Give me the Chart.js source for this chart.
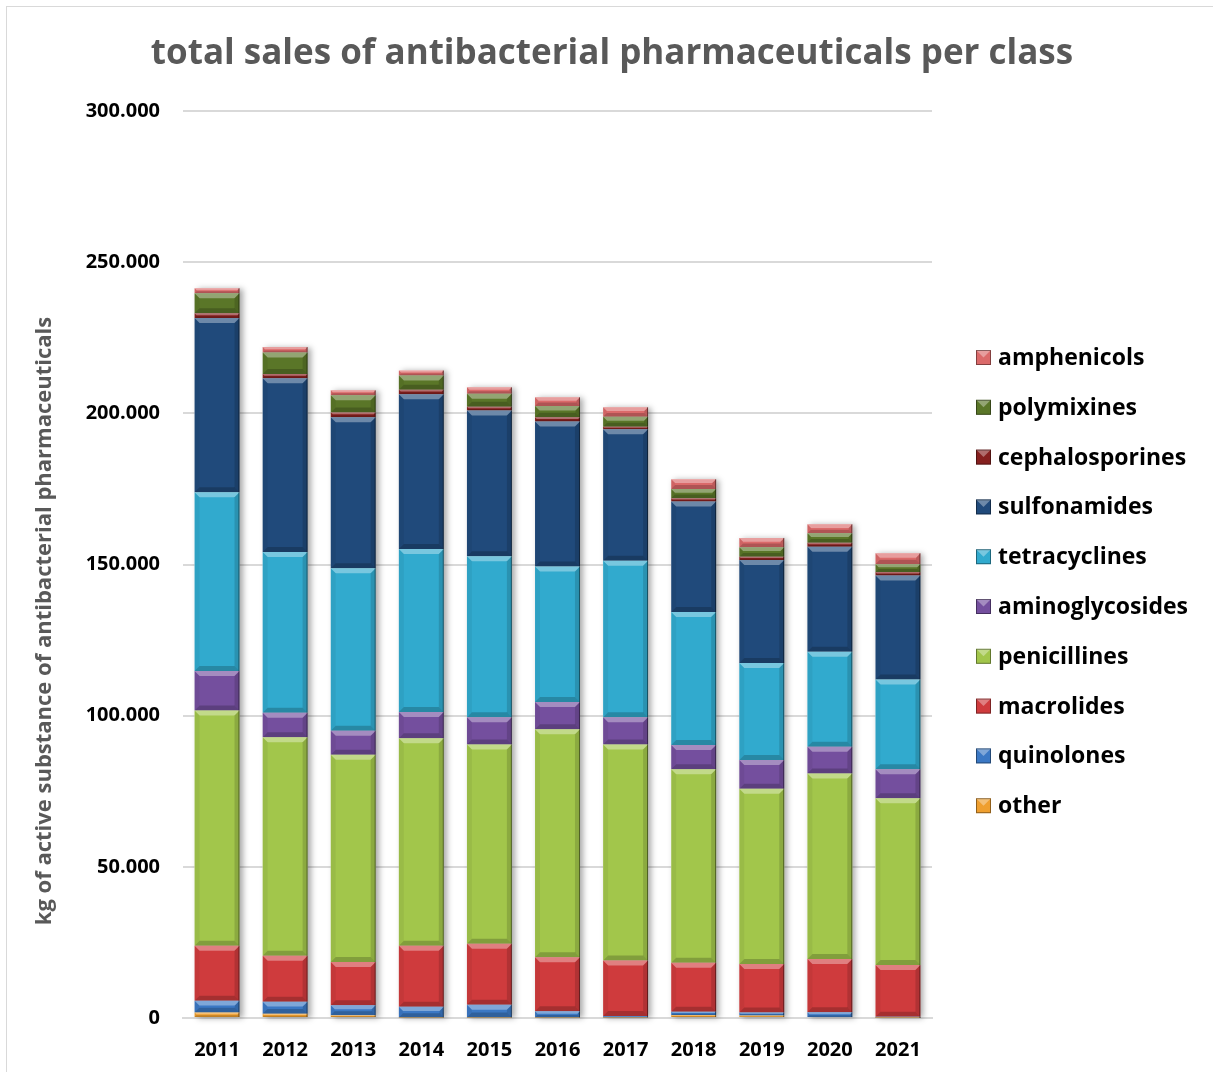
<!DOCTYPE html>
<html>
<head>
<meta charset="utf-8">
<script src="https://cdn.jsdelivr.net/npm/chart.js@4"></script>
<style>
  html, body { margin: 0; padding: 0; background: #fff; }
  #wrap { position: relative; width: 1213px; height: 1072px; overflow: hidden; }
  #frame { position: absolute; left: 6px; top: 6px; width: 1220px; height: 1100px; border: 1px solid #d9d9d9; }
  canvas { position: absolute; left: 0; top: 0; }
</style>
</head>
<body>
<div id="wrap">
  <div id="frame"></div>
  <canvas id="salesChart" width="1213" height="1072"></canvas>
</div>
<script>
// kg of active substance, per year
const years = ["2011", "2012", "2013", "2014", "2015", "2016", "2017", "2018", "2019", "2020", "2021"];

const other           = [1800, 1400, 900, 200, 200, 200, 200, 1000, 800, 300, 100];
const quinolones      = [3900, 4000, 3300, 3500, 4200, 2000, 500, 1100, 1000, 1600, 300];
const macrolides      = [18200, 15200, 14300, 20200, 20200, 17900, 18300, 16200, 16100, 17600, 17100];
const penicillines    = [77800, 72300, 68600, 68600, 65900, 75400, 71500, 64000, 57900, 61400, 55200];
const aminoglycosides = [13100, 8100, 7900, 8700, 9000, 9000, 9000, 8000, 9500, 8800, 9600];
const tetracyclines   = [59100, 53100, 53800, 53900, 53200, 44800, 51700, 44000, 32100, 31400, 29700];
const sulfonamides    = [57600, 57500, 49900, 51200, 48200, 48000, 43500, 36500, 34100, 34800, 34400];
const cephalosporines = [1600, 1400, 1600, 1500, 1300, 1400, 900, 1100, 1100, 1300, 1100];
const polymixines     = [6600, 7100, 5700, 4700, 4300, 3700, 3300, 3100, 3100, 3100, 2600];
const amphenicols     = [1700, 1800, 1600, 1700, 2100, 2900, 3100, 3200, 3100, 3000, 3600];

const yTicks = [0, 50000, 100000, 150000, 200000, 250000, 300000];

const titleText = "total sales of antibacterial pharmaceuticals per class";
const yTitleText = "kg of active substance of antibacterial pharmaceuticals";

// bottom to top, same as the stack
const series = [
  { label: "other", data: other, color: "#ef9f2f" },
  { label: "quinolones", data: quinolones, color: "#3b78c4" },
  { label: "macrolides", data: macrolides, color: "#cf3b3d" },
  { label: "penicillines", data: penicillines, color: "#a2c64b" },
  { label: "aminoglycosides", data: aminoglycosides, color: "#744f9e" },
  { label: "tetracyclines", data: tetracyclines, color: "#31aace" },
  { label: "sulfonamides", data: sulfonamides, color: "#204a7b" },
  { label: "cephalosporines", data: cephalosporines, color: "#86201f" },
  { label: "polymixines", data: polymixines, color: "#5a7628" },
  { label: "amphenicols", data: amphenicols, color: "#db6a6a" }
];

const FONT = "'Open Sans', 'DejaVu Sans', sans-serif";

// soft shadow behind each full stack
const stackShadow = {
  id: "stackShadow",
  beforeDatasetsDraw(chart) {
    const ctx = chart.ctx;
    const metas = chart.data.datasets.map((d, i) => chart.getDatasetMeta(i));
    ctx.save();
    ctx.shadowColor = "rgba(0,0,0,0.35)";
    ctx.shadowBlur = 6;
    ctx.shadowOffsetX = 3;
    ctx.shadowOffsetY = 1;
    ctx.fillStyle = "#fff";
    metas[0].data.forEach((el, idx) => {
      let top = el.base;
      metas.forEach(m => { top = Math.min(top, m.data[idx].y); });
      ctx.fillRect(el.x - el.width / 2, top, el.width, el.base - top);
    });
    ctx.restore();
  }
};

// bevel look on every segment
const bevel = {
  id: "bevel",
  afterDatasetsDraw(chart) {
    const ctx = chart.ctx;
    chart.data.datasets.forEach((ds, i) => {
      chart.getDatasetMeta(i).data.forEach(el => {
        const l = el.x - el.width / 2, r = el.x + el.width / 2;
        const t = Math.min(el.y, el.base), b = Math.max(el.y, el.base);
        const h = b - t;
        if (h < 0.5) return;
        const s = Math.min(5, h / 2.5, el.width / 2);
        const poly = (pts, fill) => {
          ctx.beginPath();
          ctx.moveTo(pts[0][0], pts[0][1]);
          pts.slice(1).forEach(p => ctx.lineTo(p[0], p[1]));
          ctx.closePath();
          ctx.fillStyle = fill;
          ctx.fill();
        };
        ctx.save();
        poly([[l, t], [r, t], [r - s, t + s], [l + s, t + s]], "rgba(255,255,255,0.35)");
        poly([[l, b], [r, b], [r - s, b - s], [l + s, b - s]], "rgba(0,0,0,0.2)");
        poly([[l, t], [l + s, t + s], [l + s, b - s], [l, b]], "rgba(0,0,0,0.05)");
        poly([[r, t], [r - s, t + s], [r - s, b - s], [r, b]], "rgba(0,0,0,0.14)");
        ctx.strokeStyle = "rgba(0,0,0,0.45)";
        ctx.lineWidth = 1;
        ctx.beginPath();
        ctx.moveTo(r - 0.5, t);
        ctx.lineTo(r - 0.5, b);
        ctx.stroke();
        ctx.restore();
      });
    });
  }
};

// chart title, y-axis title and legend on the right
const extras = {
  id: "extras",
  afterDraw(chart) {
    const ctx = chart.ctx;
    ctx.save();
    ctx.font = "bold 35px " + FONT;
    ctx.fillStyle = "#595959";
    ctx.textAlign = "center";
    ctx.textBaseline = "middle";
    ctx.fillText(titleText, 612, 54);
    ctx.restore();

    ctx.save();
    ctx.translate(45, 621);
    ctx.rotate(-Math.PI / 2);
    ctx.font = "bold 22px " + FONT;
    ctx.fillStyle = "#595959";
    ctx.textAlign = "center";
    ctx.textBaseline = "middle";
    ctx.fillText(yTitleText, 0, 0);
    ctx.restore();

    ctx.save();
    ctx.font = "bold 23px " + FONT;
    ctx.textBaseline = "middle";
    const items = chart.data.datasets.slice().reverse();
    items.forEach((ds, k) => {
      const cy = 357.5 + k * 49.8;
      const bx = 976, bs = 15;
      ctx.fillStyle = ds.backgroundColor;
      ctx.fillRect(bx, cy - bs / 2, bs, bs);
      ctx.fillStyle = "rgba(255,255,255,0.35)";
      ctx.beginPath();
      ctx.moveTo(bx, cy - bs / 2); ctx.lineTo(bx + bs, cy - bs / 2);
      ctx.lineTo(bx + bs / 2, cy); ctx.closePath(); ctx.fill();
      ctx.strokeStyle = "rgba(0,0,0,0.4)";
      ctx.lineWidth = 1;
      ctx.strokeRect(bx + 0.5, cy - bs / 2 + 0.5, bs - 1, bs - 1);
      ctx.fillStyle = "#000";
      ctx.fillText(ds.label, 998, cy + 1);
    });
    ctx.restore();
  }
};

new Chart(document.getElementById("salesChart"), {
  type: "bar",
  data: {
    labels: years,
    datasets: series.map(s => ({
      label: s.label,
      data: s.data,
      backgroundColor: s.color,
      borderWidth: 0,
      barPercentage: 0.66,
      categoryPercentage: 1.0
    }))
  },
  options: {
    responsive: false,
    devicePixelRatio: 1,
    animation: false,
    layout: { padding: { left: 0, right: 281, top: 111, bottom: 10 } },
    plugins: {
      legend: { display: false },
      tooltip: { enabled: false },
      title: { display: false }
    },
    scales: {
      x: {
        stacked: true,
        afterFit: s => { s.height = 44; },
        grid: { display: false, drawTicks: false },
        border: { display: true, color: "#d9d9d9", width: 2 },
        ticks: { color: "#000", padding: 20, font: { family: FONT, size: 20, weight: "bold" } }
      },
      y: {
        stacked: true,
        min: 0,
        max: 300000,
        afterFit: s => { s.width = 183; },
        afterBuildTicks: s => { s.ticks = yTicks.map(v => ({ value: v })); },
        grid: { color: "#d9d9d9", lineWidth: 2, drawTicks: false },
        border: { display: false },
        ticks: {
          color: "#000",
          padding: 23,
          font: { family: FONT, size: 20, weight: "bold" },
          callback: v => v.toLocaleString("de-DE")
        }
      }
    }
  },
  plugins: [stackShadow, bevel, extras]
});
</script>
</body>
</html>
